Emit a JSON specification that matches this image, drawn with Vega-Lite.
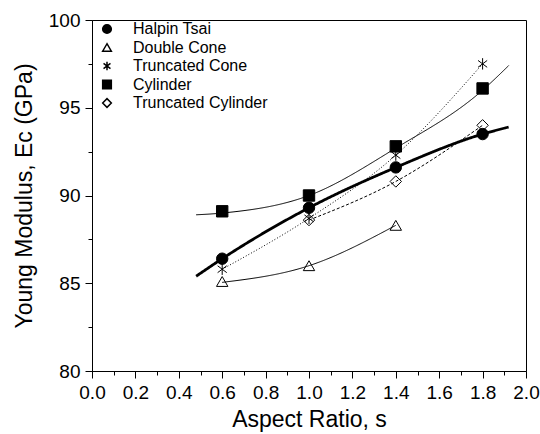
{
  "$schema": "https://vega.github.io/schema/vega-lite/v6.json",
  "width": 434,
  "height": 351,
  "autosize": {"type": "none"},
  "padding": {"left": 92, "top": 20, "right": 14, "bottom": 63},
  "background": "white",
  "config": {
    "view": {"stroke": "black", "strokeWidth": 1},
    "font": "Liberation Sans",
    "axis": {
      "domainColor": "black",
      "tickColor": "black",
      "labelColor": "black",
      "titleColor": "black",
      "labelFont": "Liberation Sans",
      "titleFont": "Liberation Sans",
      "titleFontWeight": "normal",
      "labelFontSize": 19,
      "titleFontSize": 23,
      "grid": false
    },
    "legend": {
      "labelFont": "Liberation Sans",
      "labelFontSize": 16,
      "labelColor": "black"
    }
  },
  "datasets": {
    "points": [
      {"series": "Halpin Tsai", "x": 0.6, "y": 86.4},
      {"series": "Halpin Tsai", "x": 1.0, "y": 89.3},
      {"series": "Halpin Tsai", "x": 1.4, "y": 91.6},
      {"series": "Halpin Tsai", "x": 1.8, "y": 93.5},
      {"series": "Double Cone", "x": 0.6, "y": 85.1},
      {"series": "Double Cone", "x": 1.0, "y": 86.0},
      {"series": "Double Cone", "x": 1.4, "y": 88.3},
      {"series": "Truncated Cone", "x": 0.6, "y": 85.8},
      {"series": "Truncated Cone", "x": 1.0, "y": 88.7},
      {"series": "Truncated Cone", "x": 1.4, "y": 92.3},
      {"series": "Truncated Cone", "x": 1.8, "y": 97.5},
      {"series": "Cylinder", "x": 0.6, "y": 89.1},
      {"series": "Cylinder", "x": 1.0, "y": 90.0},
      {"series": "Cylinder", "x": 1.4, "y": 92.8},
      {"series": "Cylinder", "x": 1.8, "y": 96.1},
      {"series": "Truncated Cylinder", "x": 1.0, "y": 88.6},
      {"series": "Truncated Cylinder", "x": 1.4, "y": 90.8},
      {"series": "Truncated Cylinder", "x": 1.8, "y": 94.0}
    ],
    "curves": [
      {"curve": "Halpin Tsai fit", "x": 0.48, "y": 85.4},
      {"curve": "Halpin Tsai fit", "x": 0.6, "y": 86.4},
      {"curve": "Halpin Tsai fit", "x": 1.0, "y": 89.3},
      {"curve": "Halpin Tsai fit", "x": 1.4, "y": 91.6},
      {"curve": "Halpin Tsai fit", "x": 1.8, "y": 93.5},
      {"curve": "Halpin Tsai fit", "x": 1.92, "y": 93.9},
      {"curve": "Cylinder fit", "x": 0.48, "y": 88.9},
      {"curve": "Cylinder fit", "x": 0.6, "y": 89.0},
      {"curve": "Cylinder fit", "x": 1.0, "y": 90.0},
      {"curve": "Cylinder fit", "x": 1.4, "y": 92.7},
      {"curve": "Cylinder fit", "x": 1.8, "y": 96.0},
      {"curve": "Cylinder fit", "x": 1.92, "y": 97.4},
      {"curve": "Double Cone fit", "x": 0.6, "y": 85.05},
      {"curve": "Double Cone fit", "x": 1.0, "y": 86.0},
      {"curve": "Double Cone fit", "x": 1.4, "y": 88.3},
      {"curve": "Truncated Cone line", "x": 0.6, "y": 85.8},
      {"curve": "Truncated Cone line", "x": 1.0, "y": 88.7},
      {"curve": "Truncated Cone line", "x": 1.4, "y": 92.3},
      {"curve": "Truncated Cone line", "x": 1.8, "y": 97.5},
      {"curve": "Truncated Cylinder line", "x": 1.0, "y": 88.6},
      {"curve": "Truncated Cylinder line", "x": 1.4, "y": 90.8},
      {"curve": "Truncated Cylinder line", "x": 1.8, "y": 94.0}
    ]
  },
  "encoding": {
    "x": {
      "field": "x",
      "type": "quantitative",
      "scale": {"domain": [0, 2], "nice": false, "zero": false},
      "axis": {
        "title": "Aspect Ratio, s",
        "values": [0, 0.1, 0.2, 0.3, 0.4, 0.5, 0.6, 0.7, 0.8, 0.9, 1.0, 1.1, 1.2, 1.3, 1.4, 1.5, 1.6, 1.7, 1.8, 1.9, 2.0],
        "format": ".1f",
        "labelExpr": "round(datum.value * 10) % 2 === 0 ? datum.label : ''",
        "tickSize": {"condition": {"test": "round(datum.value * 10) % 2 === 0", "value": 7}, "value": 4},
        "labelPadding": 5,
        "titlePadding": 6,
        "labelFlush": false,
        "labelOverlap": false
      }
    },
    "y": {
      "field": "y",
      "type": "quantitative",
      "scale": {"domain": [80, 100], "nice": false, "zero": false},
      "axis": {
        "title": "Young Modulus, Eᴄ (GPa)",
        "values": [80, 82.5, 85, 87.5, 90, 92.5, 95, 97.5, 100],
        "labelExpr": "datum.value % 5 === 0 ? format(datum.value, 'd') : ''",
        "tickSize": {"condition": {"test": "datum.value % 5 === 0", "value": 7}, "value": 4},
        "labelPadding": 5,
        "titlePadding": 12,
        "labelFlush": false,
        "labelOverlap": false
      }
    }
  },
  "layer": [
    {
      "data": {"name": "curves"},
      "mark": {"type": "line", "interpolate": "monotone", "color": "black", "clip": true},
      "encoding": {
        "detail": {"field": "curve", "type": "nominal"},
        "strokeWidth": {
          "field": "curve",
          "type": "nominal",
          "scale": {
            "type": "ordinal",
            "domain": ["Halpin Tsai fit", "Cylinder fit", "Double Cone fit", "Truncated Cone line", "Truncated Cylinder line"],
            "range": [2.8, 1, 1, 1, 1]
          },
          "legend": null
        },
        "strokeDash": {
          "field": "curve",
          "type": "nominal",
          "scale": {
            "domain": ["Halpin Tsai fit", "Cylinder fit", "Double Cone fit", "Truncated Cone line", "Truncated Cylinder line"],
            "range": [[1, 0], [1, 0], [1, 0], [1, 2], [3, 2]]
          },
          "legend": null
        }
      }
    },
    {
      "data": {"name": "points"},
      "mark": {"type": "point", "size": 130, "stroke": "black", "strokeWidth": 1, "opacity": 1},
      "encoding": {
        "shape": {
          "field": "series",
          "type": "nominal",
          "scale": {
            "domain": ["Halpin Tsai", "Double Cone", "Truncated Cone", "Cylinder", "Truncated Cylinder"],
            "range": ["circle", "triangle-up", "M0,-1L0,1M-0.8,-0.6L0.8,0.6M-0.8,0.6L0.8,-0.6", "square", "diamond"]
          },
          "legend": {
            "title": null,
            "orient": "none",
            "legendX": 7,
            "legendY": 1,
            "padding": 0,
            "symbolSize": 75,
            "labelOffset": 18,
            "rowPadding": 2.5,
            "encode": {
              "symbols": {
                "update": {
                  "stroke": {"value": "black"},
                  "strokeWidth": {"value": 1},
                  "opacity": {"value": 1}
                }
              }
            }
          }
        },
        "fill": {
          "field": "series",
          "type": "nominal",
          "scale": {
            "domain": ["Halpin Tsai", "Double Cone", "Truncated Cone", "Cylinder", "Truncated Cylinder"],
            "range": ["black", "transparent", "transparent", "black", "transparent"]
          },
          "legend": {
            "title": null,
            "orient": "none",
            "legendX": 7,
            "legendY": 1,
            "padding": 0,
            "symbolSize": 75,
            "labelOffset": 18,
            "rowPadding": 2.5,
            "encode": {
              "symbols": {
                "update": {
                  "stroke": {"value": "black"},
                  "strokeWidth": {"value": 1},
                  "opacity": {"value": 1}
                }
              }
            }
          }
        }
      }
    }
  ]
}
